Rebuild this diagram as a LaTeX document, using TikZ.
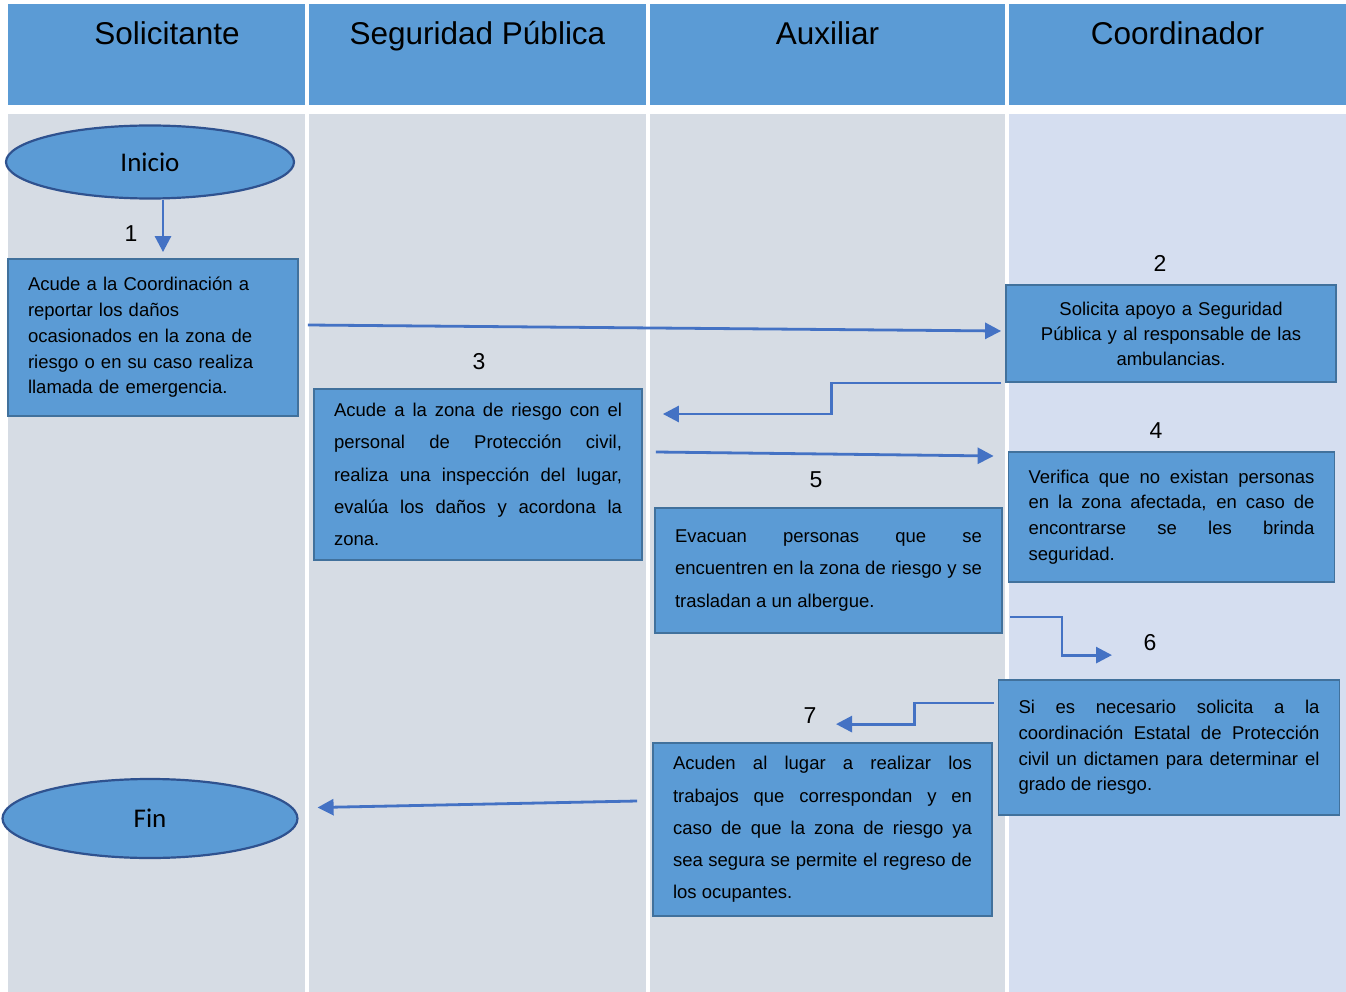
\documentclass[tikz,border=0pt]{standalone}
\usepackage{fontspec}
\setmainfont{Liberation Sans}
\newfontfamily\calibri{Carlito}
\usetikzlibrary{arrows.meta,positioning,calc,shapes.geometric}
\definecolor{encab}{HTML}{5B9BD5}
\definecolor{carril}{HTML}{D6DCE4}
\definecolor{carrilc}{HTML}{D5DEF0}
\definecolor{cajaborde}{HTML}{41719C}
\definecolor{elipborde}{HTML}{2F528F}
\definecolor{flecha}{HTML}{4472C4}
\tikzset{
  paso/.style       = {rectangle, draw=cajaborde, line width=1.8pt, fill=encab,
                       inner xsep=20pt, inner ysep=2pt,
                       font=\fontsize{18.5}{25.8}\selectfont},
  pasoamplio/.style = {paso, font=\fontsize{18.5}{32.2}\selectfont},
  terminal/.style   = {ellipse, draw=elipborde, line width=2.2pt, fill=encab, inner sep=0pt,
                       font=\calibri\fontsize{27}{30}\selectfont},
  titulo/.style     = {anchor=base, inner sep=0pt, font=\fontsize{31.5}{36}\selectfont},
  numero/.style     = {inner sep=0pt, font=\fontsize{23}{26}\selectfont},
  flujo/.style      = {-{Triangle[length=16pt,width=16pt]}, line width=2.8pt, draw=flecha},
}

\begin{document}
\begin{tikzpicture}[x=1pt, y=-1pt]
\useasboundingbox (0,0) rectangle (1346,992);
\fill[white] (0,0) rectangle (1346,992);

% Lanes: header strip and body
\foreach \xa/\xb/\col in {8/305/carril, 309/646/carril, 650/1005/carril, 1009/1346/carrilc} {
  \fill[encab] (\xa,4) rectangle (\xb,105);
  \fill[\col]  (\xa,114) rectangle (\xb,992);
}
\node[titulo] (h1) at (167,45)    {Solicitante};
\node[titulo] (h2) at (477.5,45)  {Seguridad Pública};
\node[titulo] (h3) at (827.5,45)  {Auxiliar};
\node[titulo] (h4) at (1177.5,45) {Coordinador};

% Start and end
\node[terminal, minimum width=288pt, minimum height=73pt] (inicio) at (150,162) {Inicio};
\node[terminal, minimum width=295pt, minimum height=79pt] (fin)    at (150,818.5) {Fin};

% Steps
\node[paso, align=left, text width=250pt, minimum height=157pt] (b1) at (153,337.5)
  {Acude a la Coordinación a\\reportar los daños\\ocasionados en la zona de\\riesgo o en su caso realiza\\llamada de emergencia.};
\node[paso, align=center, text width=290pt, minimum height=97pt,
      font=\fontsize{18.5}{25}\selectfont] (b2) at (1171,333.5)
  {Solicita apoyo a Seguridad\\Pública y al responsable de las\\ambulancias.};
\node[pasoamplio, align=justify, text width=288pt, inner xsep=20pt, minimum height=171pt] (b3) at (478,474.5)
  {Acude a la zona de riesgo con el\linebreak personal de Protección civil,\linebreak realiza una inspección del lugar,\linebreak evalúa los daños y acordona la\linebreak zona.};
\node[paso, align=justify, text width=286pt, minimum height=130pt] (b4) at (1171.5,517)
  {Verifica que no existan personas\linebreak en la zona afectada, en caso de\linebreak encontrarse se les brinda\linebreak seguridad.};
\node[pasoamplio, align=justify, text width=307pt, minimum height=125pt] (b5) at (828.5,570.5)
  {Evacuan personas que se\linebreak encuentren en la zona de riesgo y se\linebreak trasladan a un albergue.};
\node[paso, align=justify, text width=301pt, minimum height=135pt] (b6) at (1169,747.5)
  {Si es necesario solicita a la\linebreak coordinación Estatal de Protección\linebreak civil un dictamen para determinar el\linebreak grado de riesgo.};
\node[pasoamplio, align=justify, text width=299pt, minimum height=173pt] (b7) at (822.5,829.5)
  {Acuden al lugar a realizar los\linebreak trabajos que correspondan y en\linebreak caso de que la zona de riesgo ya\linebreak sea segura se permite el regreso de\linebreak los ocupantes.};

% Step numbers
\node[numero] (n1) at (131,234)  {1};
\node[numero] (n2) at (1160,263) {2};
\node[numero] (n3) at (479,362)  {3};
\node[numero] (n4) at (1156,431) {4};
\node[numero] (n5) at (816,480)  {5};
\node[numero] (n6) at (1150,643) {6};
\node[numero] (n7) at (810,716)  {7};

% Flow
\draw[flujo] ([xshift=13pt]inicio.south) -- ([xshift=10pt,yshift=6pt]b1.north);
\draw[flujo] ([xshift=9pt,yshift=12.5pt]b1.east) -- ([xshift=-4pt,yshift=2.5pt]b2.west);
\draw[flujo] ([xshift=-4pt]b2.south west) -- ++(-170,0) |- ([xshift=20pt,yshift=60.5pt]b3.east);
\draw[flujo] ([xshift=13pt,yshift=22.5pt]b3.east) -- ([xshift=-14pt,yshift=61pt]b4.west);
\draw[flujo] ([xshift=7pt,yshift=-46.5pt]b5.east) -- ++(52,0) |- ([xshift=-57pt,yshift=24pt]b6.north);
\draw[flujo] ([xshift=-4pt,yshift=44.5pt]b6.west) -- ++(-79,0) |- ([xshift=13.5pt,yshift=18pt]b7.north);
\draw[flujo] ([xshift=-15pt,yshift=28.5pt]b7.west) -- ([xshift=19pt,yshift=11pt]fin.east);
\end{tikzpicture}
\end{document}
